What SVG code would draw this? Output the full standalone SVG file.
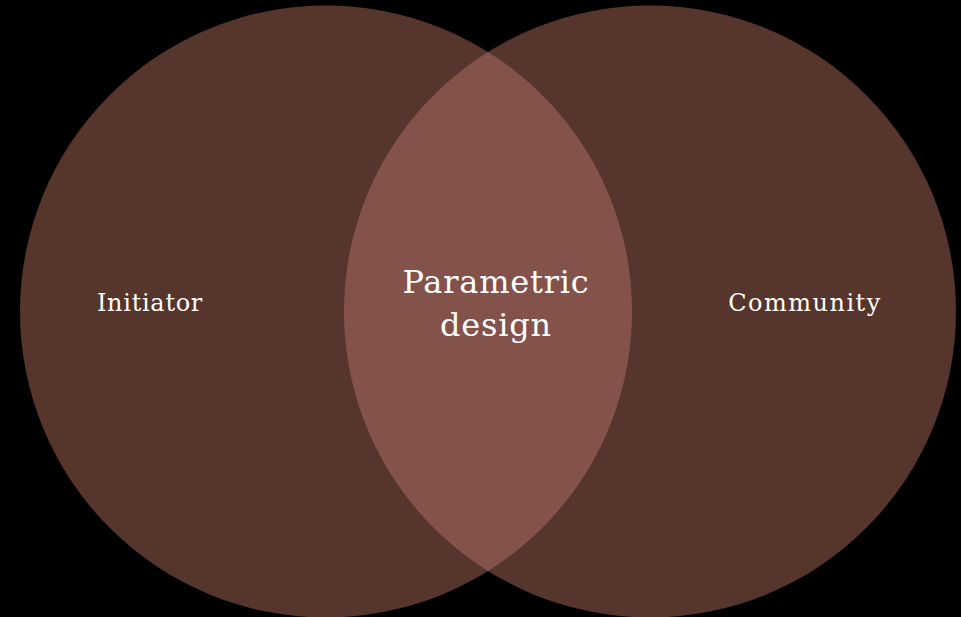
<svg xmlns="http://www.w3.org/2000/svg" width="961" height="617" viewBox="0 0 961 617">
<style>
.set{fill:#56352D}
.lens{fill:#83524A}
.lbl{font-family:"DejaVu Serif",serif;fill:#FFFFFF;text-anchor:middle}
</style>
<rect width="961" height="617" fill="#000000"/>
<g id="initiator">
<circle class="set" cx="326" cy="311.5" r="306"/>
<text class="lbl" x="150" y="311" font-size="24" letter-spacing="0.7">Initiator</text>
</g>
<g id="community">
<circle class="set" cx="650" cy="311.5" r="306"/>
<text class="lbl" x="805" y="311" font-size="24" letter-spacing="1.5">Community</text>
</g>
<g id="parametric-design">
<path class="lens" d="M488,51.9 A306,306 0 0 1 488,571.1 A306,306 0 0 1 488,51.9 Z"/>
<text class="lbl" font-size="32" letter-spacing="0.8"><tspan x="496" y="293">Parametric</tspan><tspan x="496" y="336">design</tspan></text>
</g>
<g id="connectors"/>
</svg>
